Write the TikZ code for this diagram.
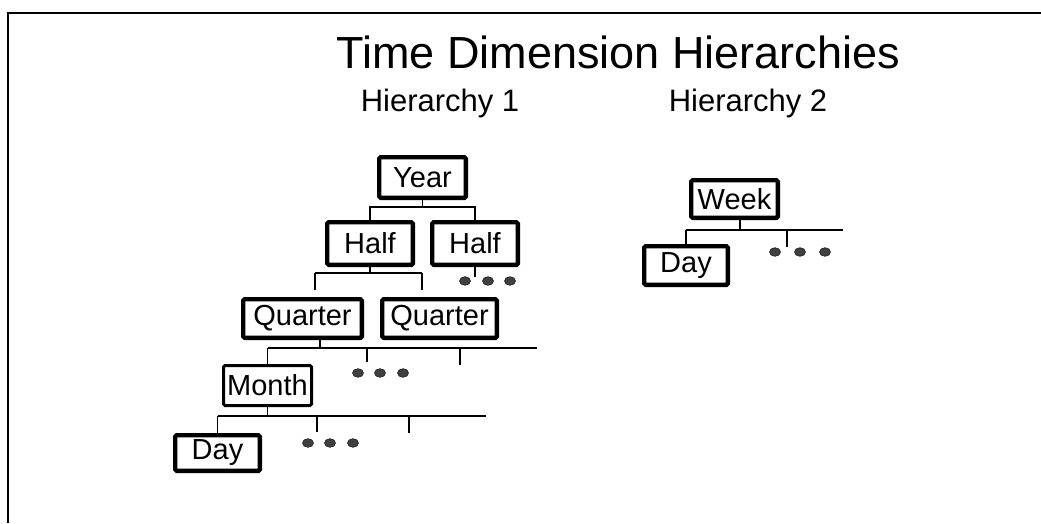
\documentclass[tikz,border=0pt]{standalone}
\usepackage{fontspec}
\setmainfont{Liberation Sans}
\begin{document}
\begin{tikzpicture}[x=1pt,y=-1pt,
  box/.style={draw, line width=4.3pt, rounded corners=1.5pt, inner sep=0pt,
              font=\fontsize{29}{32}\selectfont},
  thinbox/.style={box, line width=3pt},
  link/.style={line width=1.4pt},
  bus/.style={line width=2.8pt},
  dotmark/.style={fill=black!75, draw=black!90, line width=0.6pt}
]
\useasboundingbox (0,0) rectangle (1041,523);

% page frame (top and left edges)
\draw[line width=2.8pt] (8,523) -- (8,13) -- (1041,13);

% headings
\node[anchor=base, font=\fontsize{45}{50}\selectfont] (title) at (618,68) {Time Dimension Hierarchies};
\node[anchor=base, font=\fontsize{31}{34}\selectfont] (h1) at (440,111) {Hierarchy 1};
\node[anchor=base, font=\fontsize{31}{34}\selectfont] (h2) at (748,111) {Hierarchy 2};

% hierarchy 1 boxes
\node[box, minimum width=86.7pt, minimum height=40.7pt] (year)     at (422.5,177.5) {Year};
\node[box, minimum width=85.7pt, minimum height=42.7pt] (halfA)    at (370,243.5)   {Half};
\node[box, minimum width=85.7pt, minimum height=42.7pt] (halfB)    at (475,243.5)   {Half};
\node[box, minimum width=118.7pt, minimum height=38.7pt] (quarterA) at (302.5,318.5) {Quarter};
\node[box, minimum width=114.7pt, minimum height=38.7pt] (quarterB) at (439.5,318.5) {Quarter};
\node[thinbox, minimum width=88pt, minimum height=40pt] (month) at (267.5,385.5) {Month};
\node[box, minimum width=84.7pt, minimum height=35.7pt] (dayA)     at (217.5,453)   {Day};

% hierarchy 2 boxes
\node[box, minimum width=86.7pt, minimum height=37.7pt] (week) at (734.5,199)   {Week};
\node[box, minimum width=83.7pt, minimum height=38.7pt] (dayB) at (686,265.5)   {Day};

% Year -> Half, Half
\draw[link] (year.south) -- (year.south |- 0,207);
\draw[link] (halfA.north) -- (halfA.north |- 0,207) -- (halfB.north |- 0,207) -- (halfB.north);

% Half -> Quarter, Quarter
\coordinate (qa) at (315,290);
\coordinate (qb) at (422,290);
\draw[link] (halfA.south) -- (halfA.south |- 0,273);
\draw[bus] (qa |- 0,273) -- (qb |- 0,273);
\draw[link] (qa |- 0,273) -- (qa);
\draw[link] (qb |- 0,273) -- (qb);
\coordinate (hb) at (475,277);
\draw[link] (halfB.south) -- (hb);

% Quarter -> Month ...
\coordinate (qend) at (537,348);
\coordinate (m2) at (367,362);
\coordinate (m3) at (460,365);
\draw[link] (quarterA.south -| 320,0) -- (320,348);
\draw[bus] (month.north |- qend) -- (qend);
\draw[link] (month.north |- qend) -- (month.north);
\draw[link] (m2 |- qend) -- (m2);
\draw[link] (m3 |- qend) -- (m3);

% Month -> Day ...
\coordinate (mend) at (486,416);
\coordinate (d2) at (317,432);
\coordinate (d3) at (409,433);
\draw[link] (month.south) -- (month.south |- mend);
\draw[bus] (dayA.north |- mend) -- (mend);
\draw[link] (dayA.north |- mend) -- (dayA.north);
\draw[link] (d2 |- mend) -- (d2);
\draw[link] (d3 |- mend) -- (d3);

% Week -> Day ...
\coordinate (wend) at (843,230);
\coordinate (w2) at (787,247);
\draw[link] (week.south -| 740,0) -- (740,230);
\draw[bus, line width=2.4pt] (dayB.north |- wend) -- (wend);
\draw[link] (dayB.north |- wend) -- (dayB.north);
\draw[link] (w2 |- wend) -- (w2);

% continuation marks
\foreach \x in {465,488,510} \fill[dotmark] (\x,281) ellipse [x radius=5.5, y radius=4.3];
\foreach \x in {358,380,403} \fill[dotmark] (\x,373) ellipse [x radius=5.5, y radius=4.3];
\foreach \x in {308,330,353} \fill[dotmark] (\x,443) ellipse [x radius=5.5, y radius=4.3];
\foreach \x in {775,800,825} \fill[dotmark] (\x,252) ellipse [x radius=5.5, y radius=4.3];
\end{tikzpicture}
\end{document}
